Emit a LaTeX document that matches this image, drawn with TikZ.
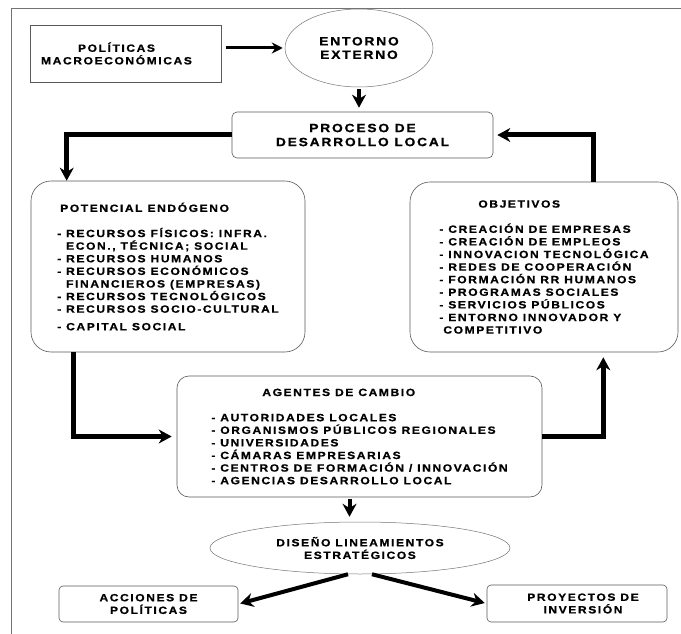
\documentclass[tikz,border=0pt]{standalone}
\usepackage{fontspec}
\newfontfamily\diagfont{Liberation Sans}[UprightFont={* Bold},FakeStretch=1.15,LetterSpace=15,FakeBold=0.8]
\usetikzlibrary{shapes.geometric,arrows.meta}

\begin{document}
\begin{tikzpicture}[x=1pt,y=-1pt,>={Stealth[length=13pt,width=14pt]},
    font=\diagfont\fontsize{10.5}{12.6}\selectfont,
    frame/.style={draw=black!55,line width=0.8pt},
    plainbox/.style={rectangle,draw=black!65,line width=0.6pt,inner sep=0pt,align=center},
    roundbox/.style={plainbox,rounded corners=#1},
    oval/.style={ellipse,draw=black!55,line width=0.5pt,inner sep=0pt,align=center},
    flow/.style={->,line width=5pt},
    drop/.style={->,line width=4pt},
    link/.style={-{Stealth[length=11pt,width=11pt]},line width=3pt}]
  \useasboundingbox (0,0) rectangle (681,634);
  \draw[frame] (681,8) -- (11,8) -- (11,634);

  % upper part
  \node[plainbox,minimum width=191pt,minimum height=57pt] (politicas) at (125.5,53.5)
    {POLÍTICAS\hspace*{18pt}\\MACROECONÓMICAS\hspace*{18pt}};
  \node[oval,minimum width=148pt,minimum height=78pt,font=\diagfont\fontsize{12}{13.5}\selectfont]
    (entorno) at (359,48) {ENTORNO\\EXTERNO};
  \node[roundbox=5pt,minimum width=261pt,minimum height=46pt,font=\diagfont\fontsize{12}{14}\selectfont]
    (proceso) at (362.5,135) {PROCESO DE\\DESARROLLO LOCAL};

  % the two lists
  \node[roundbox=20pt,minimum width=274pt,minimum height=171pt,align=left] (potencial) at (168,266.5)
    {\hspace*{3pt}POTENCIAL ENDÓGENO\\[12.6pt]
     - RECURSOS FÍSICOS: INFRA.\\
     \phantom{- }ECON., TÉCNICA; SOCIAL\\
     - RECURSOS HUMANOS\\
     - RECURSOS ECONÓMICOS\\
     \phantom{- }FINANCIEROS (EMPRESAS)\\
     - RECURSOS TECNOLÓGICOS\\
     - RECURSOS SOCIO-CULTURAL\\[5pt]
     - CAPITAL SOCIAL};
  \node[roundbox=20pt,minimum width=268pt,minimum height=170pt,align=left] (objetivos) at (544,267)
    {\hspace*{39pt}OBJETIVOS\\[12.6pt]
     - CREACIÓN DE EMPRESAS\\
     - CREACIÓN DE EMPLEOS\\
     - INNOVACION TECNOLÓGICA\\
     - REDES DE COOPERACIÓN\\
     - FORMACIÓN RR HUMANOS\\
     - PROGRAMAS SOCIALES\\
     - SERVICIOS PÚBLICOS\\
     - ENTORNO INNOVADOR Y\\
     \hspace*{4pt}COMPETITIVO};

  \node[roundbox=12pt,minimum width=365pt,minimum height=121pt,align=left] (agentes) at (359.5,436.5)
    {\hspace*{51pt}AGENTES DE CAMBIO\\[12.6pt]
     - AUTORIDADES LOCALES\\
     - ORGANISMOS PÚBLICOS REGIONALES\\
     - UNIVERSIDADES\\
     - CÁMARAS EMPRESARIAS\\
     - CENTROS DE FORMACIÓN / INNOVACIÓN\\
     - AGENCIAS DESARROLLO LOCAL};

  % lower part
  \node[oval,minimum width=300pt,minimum height=52pt] (diseno) at (360,548)
    {DISEÑO LINEAMIENTOS\\ESTRATÉGICOS};
  \node[roundbox=4pt,minimum width=179pt,minimum height=36pt] (acciones) at (148.5,604)
    {ACCIONES DE\\POLÍTICAS};
  \node[roundbox=4pt,minimum width=180pt,minimum height=37pt] (proyectos) at (577,603.5)
    {\hspace*{12pt}PROYECTOS DE\\\hspace*{12pt}INVERSIÓN};

  % connectors
  \draw[link,shorten <=5pt,shorten >=2pt] (politicas.east |- entorno.west) -- (entorno.west);
  \draw[drop,shorten <=2pt,shorten >=4pt] (entorno.south) -- (entorno.south |- proceso.north);
  \draw[flow] (proceso.west) -| ([xshift=36pt]potencial.north west);
  \draw[flow,shorten >=4pt] ([xshift=-85pt]objetivos.north east) |- (proceso.east);
  \draw[flow,shorten >=5pt] ([xshift=43pt]potencial.south west) |- (agentes.west);
  \draw[flow,shorten >=5pt] (agentes.east) -| ([xshift=-75pt]objetivos.south east);
  \draw[drop,shorten <=2pt,shorten >=5pt] ([xshift=-10pt]agentes.south) -- ([xshift=-10pt]agentes.south |- diseno.north);
  \draw[drop,shorten >=2pt] ([xshift=-12pt]diseno.south) -- (acciones.east);
  \draw[drop,shorten >=2pt] ([xshift=12pt]diseno.south) -- (proyectos.west);
\end{tikzpicture}
\end{document}
